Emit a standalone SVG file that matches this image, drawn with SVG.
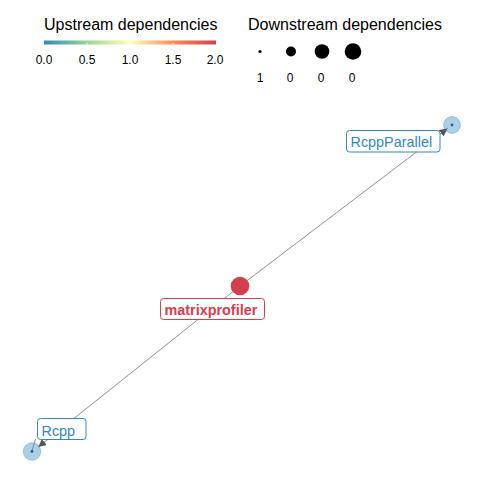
<svg xmlns="http://www.w3.org/2000/svg" width="480" height="480" viewBox="0 0 480 480">
<style>
text{font-family:"Liberation Sans",Arial,sans-serif}
.title{font-size:16px;fill:#000}
.tick{font-size:12px;fill:#000;text-anchor:middle}
.dlab{font-size:12px;fill:#000;text-anchor:middle}
.edge{stroke:#444;stroke-width:0.6;fill:none}
.seg{stroke:#444;stroke-width:0.6}
.lbox{fill:#fff;stroke-width:1}
.leaf{fill:#3288bd;fill-opacity:0.4;stroke:#3288bd;stroke-opacity:0.35}
.lbl{font-size:14.4px}
</style>
<defs>
<linearGradient id="spec" x1="0" y1="0" x2="1" y2="0">
<stop offset="0" stop-color="#3288bd"/>
<stop offset="0.25" stop-color="#99d594"/>
<stop offset="0.5" stop-color="#ffffbf"/>
<stop offset="0.75" stop-color="#fc8d59"/>
<stop offset="1" stop-color="#d53e4f"/>
</linearGradient>
<marker id="arr" viewBox="0 0 10 10" refX="10" refY="5" markerWidth="8" markerHeight="8" markerUnits="userSpaceOnUse" orient="auto">
<path d="M0,0 L10,5 L0,10 Z" fill="#555"/>
</marker>
</defs>
<rect width="480" height="480" fill="#fff"/>
<g id="legend-upstream">
<text class="title" x="44" y="30">Upstream dependencies</text>
<rect x="44" y="40.5" width="172" height="4" fill="url(#spec)"/>
<g stroke="#fff" stroke-width="1">
<line x1="87" y1="43" x2="87" y2="44.5"/>
<line x1="130" y1="43" x2="130" y2="44.5"/>
<line x1="173" y1="43" x2="173" y2="44.5"/>
</g>
<text class="tick" x="44" y="64">0.0</text>
<text class="tick" x="87" y="64">0.5</text>
<text class="tick" x="130" y="64">1.0</text>
<text class="tick" x="173" y="64">1.5</text>
<text class="tick" x="215" y="64">2.0</text>
</g>
<g id="legend-downstream">
<text class="title" x="248" y="30">Downstream dependencies</text>
<circle cx="260" cy="51.5" r="1.6" fill="#000"/>
<circle cx="291" cy="51.5" r="5" fill="#000"/>
<circle cx="322" cy="51.5" r="7.3" fill="#000"/>
<circle cx="353" cy="51.5" r="8.3" fill="#000"/>
<text class="dlab" x="260" y="82">1</text>
<text class="dlab" x="290" y="82">0</text>
<text class="dlab" x="321" y="82">0</text>
<text class="dlab" x="352" y="82">0</text>
</g>
<g id="connectors">
<line class="edge" x1="240" y1="286" x2="447.5" y2="128.4" marker-end="url(#arr)"/>
<line class="edge" x1="240" y1="286" x2="38.2" y2="447" marker-end="url(#arr)"/>
</g>
<g id="node-RcppParallel">
<circle class="leaf" cx="452" cy="125" r="8.5"/>
<circle cx="452" cy="125" r="1.4" fill="#2b5f86"/>
<rect class="lbox" x="346.5" y="130.5" width="93.5" height="21.5" rx="3" stroke="#3288bd"/>
<text class="lbl" x="350.5" y="147" fill="#3288bd">RcppParallel</text>
</g>
<g id="node-matrixprofiler">
<circle cx="240" cy="286" r="9.3" fill="#d53e4f"/>
<rect class="lbox" x="160.5" y="298.5" width="104" height="21" rx="3" stroke="#d53e4f"/>
<text x="164.5" y="315" fill="#d53e4f" style="font-size:14.4px;font-weight:bold">matrixprofiler</text>
</g>
<g id="node-Rcpp">
<line class="seg" x1="35.5" y1="439" x2="32" y2="451"/>
<circle class="leaf" cx="32" cy="451.5" r="8.8"/>
<circle cx="32" cy="451.5" r="1.4" fill="#2b5f86"/>
<rect class="lbox" x="37.5" y="418.5" width="48.5" height="21" rx="3" stroke="#3288bd"/>
<text class="lbl" x="41.5" y="436" fill="#3288bd">Rcpp</text>
</g>
</svg>
